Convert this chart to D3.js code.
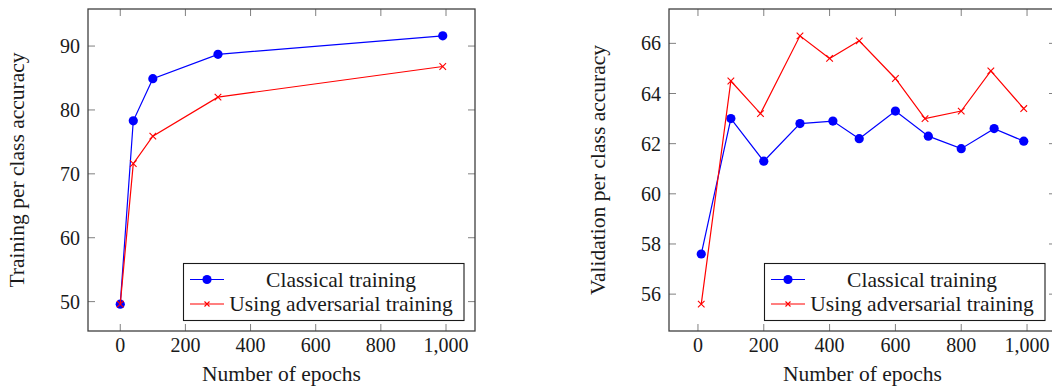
<!DOCTYPE html>
<html>
<head>
<meta charset="utf-8">
<script src="https://cdn.jsdelivr.net/npm/d3@7"></script>
<style>
  body { margin: 0; background: #fff; }
  svg { display: block; }
  text { font-family: "Liberation Serif", "Times New Roman", serif; fill: #1a1a1a; }
</style>
</head>
<body>
<svg id="chart" width="1052" height="390"></svg>
<script>
// --- data ---
const seriesNames = ["Classical training", "Using adversarial training"];
const xTicks = [0, 200, 400, 600, 800, 1000];

// left panel: training accuracy
const trainEpochsClassical = [0, 40, 100, 300, 990];
const trainClassical = [49.6, 78.3, 84.9, 88.7, 91.6];
const trainEpochsAdv = [0, 40, 100, 300, 990];
const trainAdv = [49.6, 71.6, 75.9, 82.0, 86.8];
const trainYTicks = [50, 60, 70, 80, 90];

// right panel: validation accuracy
const valEpochsClassical = [10, 100, 200, 310, 410, 490, 600, 700, 800, 900, 990];
const valClassical = [57.6, 63.0, 61.3, 62.8, 62.9, 62.2, 63.3, 62.3, 61.8, 62.6, 62.1];
const valEpochsAdv = [10, 100, 190, 310, 400, 490, 600, 690, 800, 890, 990];
const valAdv = [55.6, 64.5, 63.2, 66.3, 65.4, 66.1, 64.6, 63.0, 63.3, 64.9, 63.4];
const valYTicks = [56, 58, 60, 62, 64, 66];

const BLUE = "#0000ff", RED = "#ff0000";
const svg = d3.select("#chart");
const fmt = d3.format(",");

// pgfplots-style 10% enlarged limits
const enlarge = (lo, hi) => { const p = (hi - lo) * 0.1; return [lo - p, hi + p]; };

const crossPath = (s) => `M${-s},${-s}L${s},${s}M${-s},${s}L${s},${-s}`;

const drawPanel = (left, yLabel, classical, adv, yTicks) => {
    const top = 9, bottom = 331, width = 387;
    const right = left + width;

    const allX = classical.x.concat(adv.x), allY = classical.y.concat(adv.y);
    const x = d3.scaleLinear().domain(enlarge(d3.min(allX), d3.max(allX))).range([left, right]);
    const y = d3.scaleLinear().domain(enlarge(d3.min(allY), d3.max(allY))).range([bottom, top]);

    const g = svg.append("g");

    // inward ticks on all four sides
    const tickLen = 7;
    const ticks = g.append("g").attr("stroke", "#808080").attr("stroke-width", 1);
    xTicks.forEach((t) => {
        ticks.append("line").attr("x1", x(t)).attr("x2", x(t)).attr("y1", bottom).attr("y2", bottom - tickLen);
        ticks.append("line").attr("x1", x(t)).attr("x2", x(t)).attr("y1", top).attr("y2", top + tickLen);
    });
    yTicks.forEach((t) => {
        ticks.append("line").attr("x1", left).attr("x2", left + tickLen).attr("y1", y(t)).attr("y2", y(t));
        ticks.append("line").attr("x1", right).attr("x2", right - tickLen).attr("y1", y(t)).attr("y2", y(t));
    });

    g.append("rect")
        .attr("x", left).attr("y", top)
        .attr("width", right - left).attr("height", bottom - top)
        .attr("fill", "none").attr("stroke", "#404040").attr("stroke-width", 1.3);

    // tick labels
    g.append("g").selectAll("text").data(xTicks).enter().append("text")
        .attr("x", (d) => x(d)).attr("y", 352)
        .attr("text-anchor", "middle").attr("font-size", 20)
        .text((d) => fmt(d));
    g.append("g").selectAll("text").data(yTicks).enter().append("text")
        .attr("x", left - 8).attr("y", (d) => y(d)).attr("dy", "0.35em")
        .attr("text-anchor", "end").attr("font-size", 20)
        .text((d) => d);

    // axis labels
    g.append("text")
        .attr("x", (left + right) / 2).attr("y", 381)
        .attr("text-anchor", "middle").attr("font-size", 21.5)
        .text("Number of epochs");
    g.append("text")
        .attr("transform", "translate(" + (left - 64) + "," + ((top + bottom) / 2) + ") rotate(-90)")
        .attr("text-anchor", "middle").attr("font-size", 21.5)
        .text(yLabel);

    // series
    const line = d3.line().x((d) => x(d[0])).y((d) => y(d[1]));
    const blueData = d3.zip(classical.x, classical.y);
    const redData = d3.zip(adv.x, adv.y);

    g.append("path").datum(blueData).attr("d", line)
        .attr("fill", "none").attr("stroke", BLUE).attr("stroke-width", 1.2);
    g.append("g").selectAll("circle").data(blueData).enter().append("circle")
        .attr("cx", (d) => x(d[0])).attr("cy", (d) => y(d[1])).attr("r", 4.6)
        .attr("fill", BLUE);

    g.append("path").datum(redData).attr("d", line)
        .attr("fill", "none").attr("stroke", RED).attr("stroke-width", 1.2);
    g.append("g").selectAll("path").data(redData).enter().append("path")
        .attr("transform", (d) => "translate(" + x(d[0]) + "," + y(d[1]) + ")")
        .attr("d", crossPath(3.3))
        .attr("stroke", RED).attr("stroke-width", 1.1).attr("fill", "none");

    // legend (south east)
    const lw = 280.5, lh = 57;
    const lx = right - 11 - lw, ly = bottom - 10.5 - lh;
    const lg = g.append("g").attr("transform", "translate(" + lx + "," + ly + ")");
    lg.append("rect").attr("width", lw).attr("height", lh)
        .attr("fill", "#fff").attr("stroke", "#1a1a1a").attr("stroke-width", 1.1);
    const rows = [16, 40.5];
    const colors = [BLUE, RED];
    rows.forEach((ry, i) => {
        lg.append("line").attr("x1", 6.5).attr("x2", 40.5).attr("y1", ry).attr("y2", ry)
            .attr("stroke", colors[i]).attr("stroke-width", 1.2);
        if (i === 0) {
            lg.append("circle").attr("cx", 23.5).attr("cy", ry).attr("r", 4.6).attr("fill", BLUE);
        } else {
            lg.append("path").attr("transform", "translate(23.5," + ry + ")")
                .attr("d", crossPath(2.5)).attr("stroke", RED).attr("stroke-width", 1.1);
        }
        lg.append("text")
            .attr("x", 157.5).attr("y", ry).attr("dy", "0.33em")
            .attr("text-anchor", "middle").attr("font-size", 21.5)
            .text(seriesNames[i]);
    });
};

drawPanel(88, "Training per class accuracy",
    { x: trainEpochsClassical, y: trainClassical },
    { x: trainEpochsAdv, y: trainAdv }, trainYTicks);

drawPanel(669, "Validation per class accuracy",
    { x: valEpochsClassical, y: valClassical },
    { x: valEpochsAdv, y: valAdv }, valYTicks);
</script>
</body>
</html>
